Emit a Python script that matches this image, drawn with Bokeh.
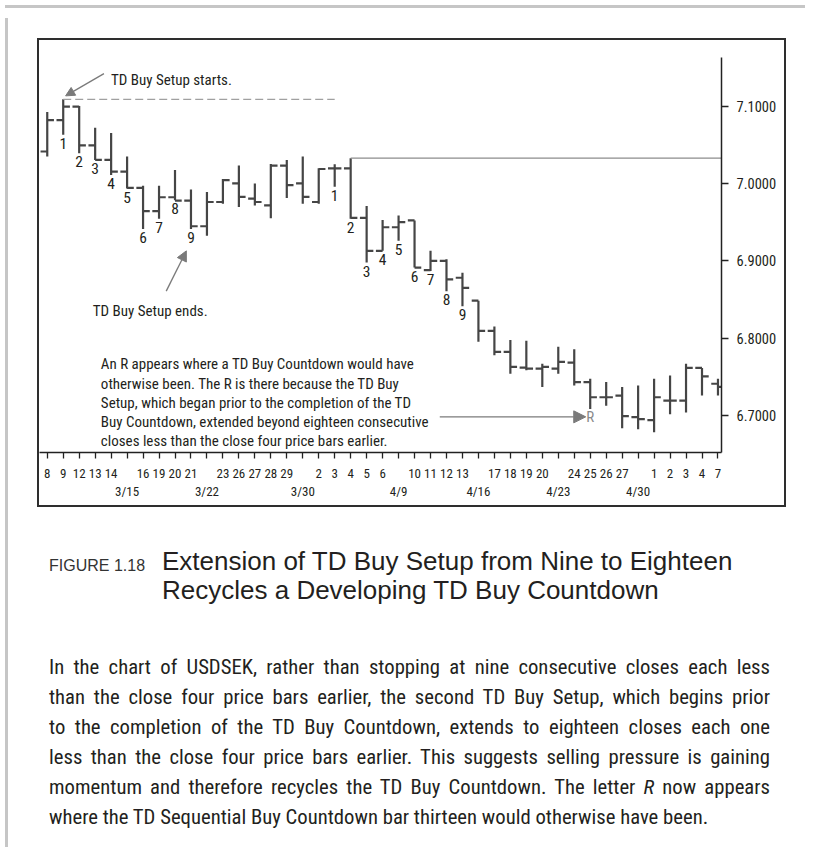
from bokeh.plotting import figure
from bokeh.models import (Range1d, FixedTicker, NumeralTickFormatter, Arrow, NormalHead, Div, Spacer,
                          ColumnDataSource)
from bokeh.layouts import column, row
from bokeh.embed import file_html
from bokeh.resources import INLINE
from bokeh.core.properties import value

# ---------------- data ----------------
day_labels = ["8", "9", "12", "13", "14", "", "16", "19", "20", "21", "", "23", "26", "27", "28", "29", "",
              "2", "3", "4", "5", "6", "", "10", "11", "12", "13", "", "17", "18", "19", "20", "",
              "24", "25", "26", "27", "", "1", "2", "3", "4", "7"]
month_labels = ["", "", "", "", "", "3/15", "", "", "", "", "3/22", "", "", "", "", "", "3/30",
                "", "", "", "", "", "4/9", "", "", "", "", "4/16", "", "", "", "", "4/23",
                "", "", "", "", "4/30", "", "", "", "", ""]

opens = [7.0413, 7.0818, 7.0991, 7.0491, 7.0304, 7.0152, 6.9944, 6.9644, 6.9822, 6.9778, 6.9448,
         6.9761, 7.0000, 6.9804, 6.9717, 7.0231, 7.0000, 6.9761, 7.0196, 7.0196, 6.9557, 6.9131,
         6.9435, 6.9523, 6.8880, 6.9001, 6.8783, 6.8487, 6.8096, 6.7827, 6.7622, 6.7609, 6.7609,
         6.7688, 6.7436, 6.7240, 6.7261, 6.6983, 6.6944, 6.7196, 6.7196, 6.7618, 6.7414]
highs = [7.0922, 7.1087, 7.1000, 7.0718, 7.0652, 7.0348, 6.9970, 6.9970, 7.0174, 6.9922, 6.9891,
         7.0057, 7.0231, 7.0000, 7.0252, 7.0304, 7.0348, 7.0196, 7.0248, 7.0326, 6.9709, 6.9527,
         6.9588, 6.9523, 6.9131, 6.9022, 6.8848, 6.8487, 6.8153, 6.7978, 6.7970, 6.7674, 6.7892,
         6.7861, 6.7479, 6.7436, 6.7371, 6.7391, 6.7479, 6.7522, 6.7674, 6.7618, 6.7479]
lows = [7.0348, 7.0630, 7.0391, 7.0304, 7.0109, 6.9935, 6.9413, 6.9544, 6.9783, 6.9413, 6.9326,
        6.9739, 6.9696, 6.9717, 6.9552, 6.9813, 6.9739, 6.9739, 6.9957, 6.9544, 6.8979, 6.9131,
        6.9262, 6.8914, 6.8870, 6.8610, 6.8414, 6.7957, 6.7783, 6.7544, 6.7587, 6.7371, 6.7544,
        6.7391, 6.7088, 6.7131, 6.6840, 6.6827, 6.6788, 6.7022, 6.7044, 6.7261, 6.7261]
closes = [7.0818, 7.0991, 7.0491, 7.0304, 7.0152, 6.9944, 6.9644, 6.9822, 6.9778, 6.9448, 6.9761,
          7.0044, 6.9826, 6.9761, 7.0231, 6.9978, 6.9826, 7.0187, 7.0196, 6.9557, 6.9131, 6.9435,
          6.9500, 6.8914, 6.9001, 6.8761, 6.8653, 6.8096, 6.7827, 6.7631, 6.7609, 6.7631, 6.7697,
          6.7436, 6.7240, 6.7240, 6.6996, 6.6957, 6.7240, 6.7196, 6.7618, 6.7509, 6.7374]

setup1_bars = [1, 2, 3, 4, 5, 6, 7, 8, 9]
setup2_bars = [18, 19, 20, 21, 22, 23, 24, 25, 26]
setup_counts = [1, 2, 3, 4, 5, 6, 7, 8, 9]
tdst_bar = 19
recycle_bar = 34
y_ticks = [6.7, 6.8, 6.9, 7.0, 7.1]

note_start = "TD Buy Setup starts."
note_end = "TD Buy Setup ends."
note_r_lines = ["An R appears where a TD Buy Countdown would have",
                "otherwise been. The R is there because the TD Buy",
                "Setup, which began prior to the completion of the TD",
                "Buy Countdown, extended beyond eighteen consecutive",
                "closes less than the close four price bars earlier."]

caption_label = "FIGURE 1.18"
caption_title = ["Extension of TD Buy Setup from Nine to Eighteen",
                 "Recycles a Developing TD Buy Countdown"]
body_lines = ["In the chart of USDSEK, rather than stopping at nine consecutive closes each less",
              "than the close four price bars earlier, the second TD Buy Setup, which begins prior",
              "to the completion of the TD Buy Countdown, extends to eighteen closes each one",
              "less than the close four price bars earlier. This suggests selling pressure is gaining",
              "momentum and therefore recycles the TD Buy Countdown. The letter <i>R</i> now appears",
              "where the TD Sequential Buy Countdown bar thirteen would otherwise have been."]

# ---------------- style ----------------
COND = "Roboto Condensed"
SANS = "Liberation Sans"
BAR = "#454545"
INK = "#231f20"
GREY = "#7a7a7a"
FRAME_GREY = "#c6c6c6"
TICK = 0.42

n = len(opens)
idx = list(range(n))

p = figure(width=749, height=469,
           x_range=Range1d(-0.485, 42.221), y_range=Range1d(6.65267, 7.16264),
           y_axis_location="right", toolbar_location=None, output_backend="svg",
           min_border_left=0, min_border_top=17, min_border_right=67, min_border_bottom=57,
           outline_line_color=None, background_fill_color="white", border_fill_color="white",
           styles={"border": "2px solid #2e2e2e"})
p.grid.visible = False

src = ColumnDataSource(dict(x=idx, o=opens, h=highs, l=lows, c=closes,
                            xl=[i - TICK for i in idx], xr=[i + TICK for i in idx]))
p.segment(x0="x", y0="l", x1="x", y1="h", source=src, line_width=2.2, line_color=BAR)
p.segment(x0="xl", y0="o", x1="x", y1="o", source=src, line_width=2.2, line_color=BAR)
p.segment(x0="x", y0="c", x1="xr", y1="c", source=src, line_width=2.2, line_color=BAR)

# dashed line from setup start high, solid line from tdst bar high
s0 = setup1_bars[0]
p.segment(x0=[s0], y0=[highs[s0]], x1=[setup2_bars[0]], y1=[highs[s0]],
          line_color="#a0a0a0", line_width=1.3, line_dash="8 4")
p.segment(x0=[tdst_bar], y0=[highs[tdst_bar]], x1=[50], y1=[highs[tdst_bar]],
          line_color="#8c8c8c", line_width=1.3)

# setup counts under the bars
lab_x = setup1_bars + setup2_bars
p.text(x=lab_x, y=[lows[i] for i in lab_x], text=[str(c) for c in setup_counts * 2],
       text_font=value(COND), text_font_size=value("15.5px"), text_color=INK,
       text_align="center", text_baseline="top", y_offset=3)

# annotations
p.text(x=[3.99], y=[7.1336], text=[note_start], text_font=value(COND),
       text_font_size=value("15px"), text_color=INK, text_align="left", text_baseline="alphabetic")
p.text(x=[2.853], y=[6.8357], text=[note_end], text_font=value(COND),
       text_font_size=value("15px"), text_color=INK, text_align="left", text_baseline="alphabetic")
p.text(x=[3.357] * len(note_r_lines),
       y=[6.76653, 6.74162, 6.71671, 6.69180, 6.66689], text=note_r_lines,
       text_font=value(COND), text_font_size=value("15px"), text_color=INK,
       text_align="left", text_baseline="alphabetic")
p.text(x=[recycle_bar], y=[6.6987], text=["R"], text_font=value(COND),
       text_font_size=value("15px"), text_color="#8a8a8a", text_align="center",
       text_baseline="middle")

for (xs, ys, xe, ye, sz) in [(3.55, 7.1418, 1.15, 7.1131, 9),
                             (7.45, 6.861, 8.71, 6.913, 10),
                             (24.58, 6.6987, 33.72, 6.6987, 12)]:
    p.add_layout(Arrow(x_start=xs, y_start=ys, x_end=xe, y_end=ye, line_color=GREY, line_width=1.3,
                       end=NormalHead(size=sz, fill_color=GREY, line_color=GREY, line_width=1)))

# axes
labels = {}
for i in idx:
    d, m = day_labels[i], month_labels[i]
    labels[i] = d if not m else (d or "\u00a0") + "\n" + m
xa = p.xaxis[0]
xa.ticker = FixedTicker(ticks=idx)
xa.major_label_overrides = labels
xa.major_tick_in = 0
xa.major_tick_out = 6
xa.minor_tick_line_color = None
xa.major_label_standoff = 7
xa.major_label_text_font = COND
xa.major_label_text_font_size = "13px"
xa.major_label_text_color = INK
xa.axis_line_color = "#222"
xa.axis_line_width = 1.5
xa.major_tick_line_color = "#222"
xa.major_tick_line_width = 1.3

ya = p.yaxis[0]
ya.ticker = FixedTicker(ticks=y_ticks)
ya.formatter = NumeralTickFormatter(format="0.0000")
ya.major_tick_in = 0
ya.major_tick_out = 7
ya.minor_tick_line_color = None
ya.major_label_standoff = 8
ya.major_label_text_font = COND
ya.major_label_text_font_size = "14.5px"
ya.major_label_text_color = INK
ya.axis_line_color = "#222"
ya.axis_line_width = 1.5
ya.major_tick_line_color = "#222"
ya.major_tick_line_width = 1.3

# ---------------- caption ----------------
def line(text, left, top, fs, fam, extra=""):
    return (f'<div style="position:absolute;left:{left}px;top:{top}px;font-size:{fs}px;'
            f'line-height:{fs}px;font-family:{fam};color:{INK};{extra}">{text}</div>')

BODY_FAM = "'Roboto Condensed', Roboto, sans-serif"
parts = [line(caption_label, 31, 45.5, 16, f"'{SANS}'", "color:#333;"),
         line(caption_title[0], 144, 36, 26, f"'{SANS}'"),
         line(caption_title[1], 144, 65, 26, f"'{SANS}'")]
for k, t in enumerate(body_lines):
    just = "width:721px;text-align:justify;text-align-last:justify;" if k < len(body_lines) - 1 else "width:721px;"
    parts.append(line(t, 31, 144.6 + 30 * k, 20.7, BODY_FAM, just))
cap_html = '<div style="position:relative;width:790px;height:335px;">' + "".join(parts) + "</div>"
cap = Div(text=cap_html, width=790, height=335)

top_bar = Div(text="", width=800, height=3, styles={"background-color": FRAME_GREY})
left_bar = Div(text="", width=3, height=829, styles={"background-color": FRAME_GREY})
inner = column(Spacer(width=10, height=25), row(Spacer(width=24, height=10), p), cap)
root = column(top_bar, row(left_bar, inner))

open("out.html", "w").write(file_html(root, INLINE))
